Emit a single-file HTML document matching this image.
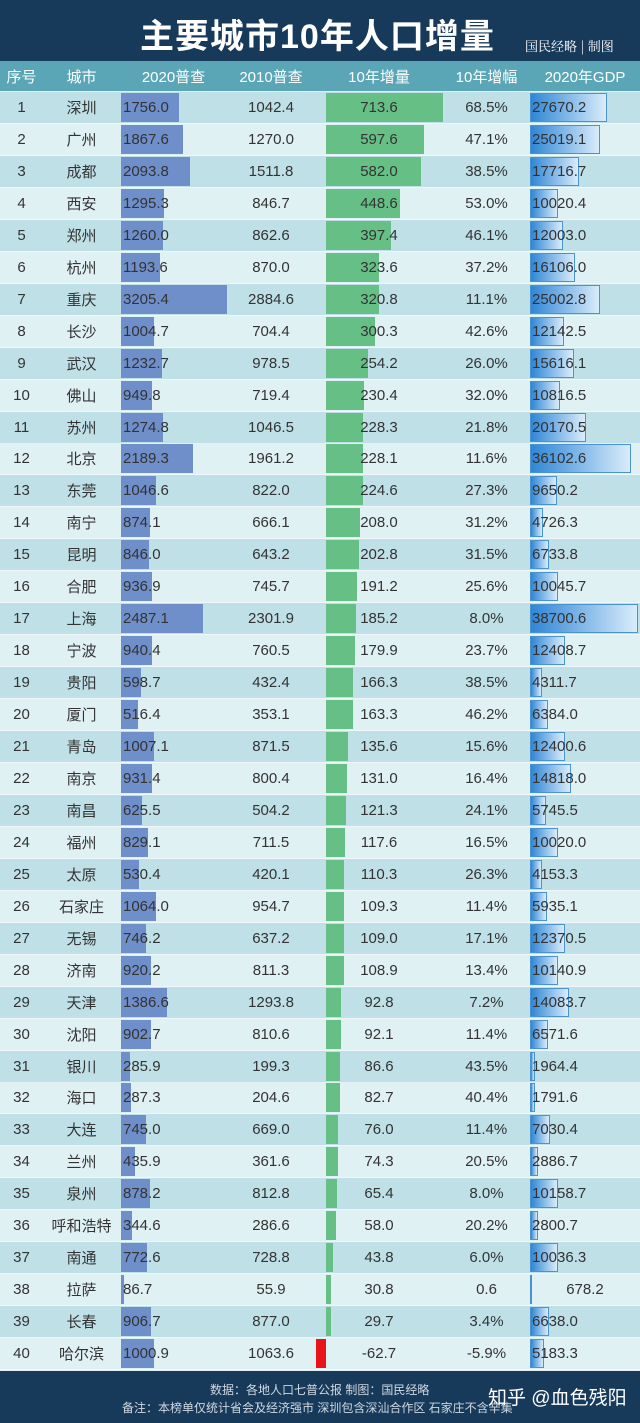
<!DOCTYPE html>
<html><head><meta charset="utf-8">
<style>
*{margin:0;padding:0;box-sizing:border-box}
body{width:640px;height:1423px;overflow:hidden;background:#dff0f3;font-family:"Liberation Sans","Noto Sans CJK SC",sans-serif;position:relative}
#title{position:absolute;left:0;top:0;width:640px;height:61px;background:#173a5b;color:#fff}
#title h1{position:absolute;left:140px;top:9px;font-size:34px;font-weight:bold;letter-spacing:1px}
#title span{position:absolute;left:525px;top:36px;font-size:13px;font-family:"Noto Serif CJK SC",serif}
#hdr{position:absolute;left:0;top:61px;width:640px;height:30px;background:#5aa6b6;color:#fff;font-size:15px}
.c{position:absolute;height:100%;display:flex;align-items:center;justify-content:center}
#rows{position:absolute;left:0;top:92px;width:640px}
.row{position:absolute;left:0;width:640px;height:32px;border-bottom:1px solid #eef8fa;font-size:15px;color:#333}
.bar{position:absolute;top:1px;height:29px}
.t{position:absolute;top:0;height:31px;display:flex;align-items:center}
#foot{position:absolute;left:0;top:1371px;width:640px;height:52px;background:#173a5b;color:#cfd8e0;font-size:12px}
</style></head><body>
<div id="title"><h1>主要城市10年人口增量</h1><span>国民经略 | 制图</span></div>
<div id="hdr">
<div class="c" style="left:0;width:43px">序号</div>
<div class="c" style="left:43px;width:77px">城市</div>
<div class="c" style="left:120px;width:107px">2020普查</div>
<div class="c" style="left:227px;width:88px">2010普查</div>
<div class="c" style="left:315px;width:128px">10年增量</div>
<div class="c" style="left:443px;width:87px">10年增幅</div>
<div class="c" style="left:530px;width:110px">2020年GDP</div>
</div>
<div id="rows"></div>
<div id="foot">
<div style="position:absolute;left:210px;top:10px">数据：各地人口七普公报 制图：国民经略</div>
<div style="position:absolute;left:122px;top:28px">备注：本榜单仅统计省会及经济强市 深圳包含深汕合作区 石家庄不含辛集</div>
<div style="position:absolute;left:488px;top:12px;font-size:19px;color:#fff">知乎 @血色残阳</div>
</div>
<script>
const cities=["深圳","广州","成都","西安","郑州","杭州","重庆","长沙","武汉","佛山","苏州","北京","东莞","南宁","昆明","合肥","上海","宁波","贵阳","厦门","青岛","南京","南昌","福州","太原","石家庄","无锡","济南","天津","沈阳","银川","海口","大连","兰州","泉州","呼和浩特","南通","拉萨","长春","哈尔滨"];
const pop2020=[1756.0,1867.6,2093.8,1295.3,1260.0,1193.6,3205.4,1004.7,1232.7,949.8,1274.8,2189.3,1046.6,874.1,846.0,936.9,2487.1,940.4,598.7,516.4,1007.1,931.4,625.5,829.1,530.4,1064.0,746.2,920.2,1386.6,902.7,285.9,287.3,745.0,435.9,878.2,344.6,772.6,86.7,906.7,1000.9];
const pop2010=[1042.4,1270.0,1511.8,846.7,862.6,870.0,2884.6,704.4,978.5,719.4,1046.5,1961.2,822.0,666.1,643.2,745.7,2301.9,760.5,432.4,353.1,871.5,800.4,504.2,711.5,420.1,954.7,637.2,811.3,1293.8,810.6,199.3,204.6,669.0,361.6,812.8,286.6,728.8,55.9,877.0,1063.6];
const increase=[713.6,597.6,582.0,448.6,397.4,323.6,320.8,300.3,254.2,230.4,228.3,228.1,224.6,208.0,202.8,191.2,185.2,179.9,166.3,163.3,135.6,131.0,121.3,117.6,110.3,109.3,109.0,108.9,92.8,92.1,86.6,82.7,76.0,74.3,65.4,58.0,43.8,30.8,29.7,-62.7];
const growth=["68.5%","47.1%","38.5%","53.0%","46.1%","37.2%","11.1%","42.6%","26.0%","32.0%","21.8%","11.6%","27.3%","31.2%","31.5%","25.6%","8.0%","23.7%","38.5%","46.2%","15.6%","16.4%","24.1%","16.5%","26.3%","11.4%","17.1%","13.4%","7.2%","11.4%","43.5%","40.4%","11.4%","20.5%","8.0%","20.2%","6.0%","0.6","3.4%","-5.9%"];
const gdp=[27670.2,25019.1,17716.7,10020.4,12003.0,16106.0,25002.8,12142.5,15616.1,10816.5,20170.5,36102.6,9650.2,4726.3,6733.8,10045.7,38700.6,12408.7,4311.7,6384.0,12400.6,14818.0,5745.5,10020.0,4153.3,5935.1,12370.5,10140.9,14083.7,6571.6,1964.4,1791.6,7030.4,2886.7,10158.7,2800.7,10036.3,678.2,6638.0,5183.3];
const popMax=Math.max(...pop2020), incMax=Math.max(...increase), gdpMax=Math.max(...gdp);
const xPop=v=>v/popMax*106, xInc=v=>v/incMax*117, xGdp=v=>v/gdpMax*108;
const body=document.getElementById('rows');
function cell(parent,left,width,text,align,name){
  const d=document.createElement('div');d.className='t';
  d.style.left=left+'px';d.style.width=width+'px';d.style.justifyContent=align;
  d.textContent=text;
  
  
  parent.appendChild(d);return d;
}
cities.forEach((c,i)=>{
  const r=document.createElement('div');r.className='row';
  r.style.top=(i*31.95)+'px';r.style.background=i%2===0?'#bfe0e7':'#e0f1f4';
  
  
  const b1=document.createElement('div');b1.className='bar';
  b1.style.left='121px';b1.style.width=xPop(pop2020[i])+'px';b1.style.background='#6f8fcb';
  
  
  r.appendChild(b1);
  const v=increase[i];const w=Math.abs(xInc(v));
  const b2=document.createElement('div');b2.className='bar';
  b2.style.left=(v>=0?326:326-w)+'px';b2.style.width=w+'px';b2.style.background=v>=0?'#66c086':'#e8141a';
  
  
  r.appendChild(b2);
  const b3=document.createElement('div');b3.className='bar';
  b3.style.left='530px';b3.style.width=xGdp(gdp[i])+'px';
  b3.style.background='linear-gradient(to right,#2f86d6,#d9ecfa)';b3.style.border='1px solid #4a92d0';
  
  
  r.appendChild(b3);
  cell(r,0,43,String(i+1),'center','rank');
  cell(r,43,77,c,'center','city');
  cell(r,123,104,pop2020[i].toFixed(1),'flex-start','pop2020-value');
  cell(r,227,88,pop2010[i].toFixed(1),'center','pop2010-value');
  cell(r,315,128,v.toFixed(1),'center','increase-value');
  cell(r,443,87,growth[i],'center','growth-value');
  if(gdp[i]<1000) cell(r,530,110,gdp[i].toFixed(1),'center','gdp-value');
  else cell(r,532,108,gdp[i].toFixed(1),'flex-start','gdp-value');
  body.appendChild(r);
});
</script>
</body></html>
